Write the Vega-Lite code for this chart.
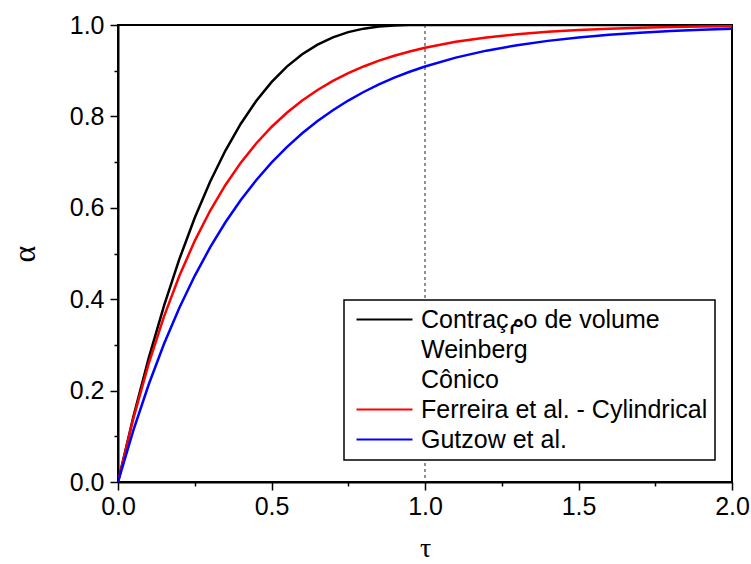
{
  "$schema": "https://vega.github.io/schema/vega-lite/v6.json",
  "width": 614,
  "height": 457,
  "autosize": "none",
  "padding": {"left": 118, "top": 25, "right": 19, "bottom": 82},
  "background": "white",
  "config": {
    "view": {"stroke": "black", "strokeWidth": 2},
    "font": "Liberation Sans"
  },
  "datasets": {
    "curves": [
      {"tau": 0, "alpha": 0, "model": "Contraçمo de volume"},
      {"tau": 0.05, "alpha": 0.142625, "model": "Contraçمo de volume"},
      {"tau": 0.1, "alpha": 0.271, "model": "Contraçمo de volume"},
      {"tau": 0.15, "alpha": 0.385875, "model": "Contraçمo de volume"},
      {"tau": 0.2, "alpha": 0.488, "model": "Contraçمo de volume"},
      {"tau": 0.25, "alpha": 0.578125, "model": "Contraçمo de volume"},
      {"tau": 0.3, "alpha": 0.657, "model": "Contraçمo de volume"},
      {"tau": 0.35, "alpha": 0.725375, "model": "Contraçمo de volume"},
      {"tau": 0.4, "alpha": 0.784, "model": "Contraçمo de volume"},
      {"tau": 0.45, "alpha": 0.833625, "model": "Contraçمo de volume"},
      {"tau": 0.5, "alpha": 0.875, "model": "Contraçمo de volume"},
      {"tau": 0.55, "alpha": 0.908875, "model": "Contraçمo de volume"},
      {"tau": 0.6, "alpha": 0.936, "model": "Contraçمo de volume"},
      {"tau": 0.65, "alpha": 0.957125, "model": "Contraçمo de volume"},
      {"tau": 0.7, "alpha": 0.973, "model": "Contraçمo de volume"},
      {"tau": 0.75, "alpha": 0.984375, "model": "Contraçمo de volume"},
      {"tau": 0.8, "alpha": 0.992, "model": "Contraçمo de volume"},
      {"tau": 0.85, "alpha": 0.996625, "model": "Contraçمo de volume"},
      {"tau": 0.9, "alpha": 0.999, "model": "Contraçمo de volume"},
      {"tau": 0.95, "alpha": 0.999875, "model": "Contraçمo de volume"},
      {"tau": 1.0, "alpha": 1, "model": "Contraçمo de volume"},
      {"tau": 1.5, "alpha": 1, "model": "Contraçمo de volume"},
      {"tau": 2.0, "alpha": 1, "model": "Contraçمo de volume"},

      {"tau": 0, "alpha": 0, "model": "Ferreira et al. - Cylindrical"},
      {"tau": 0.05, "alpha": 0.139292, "model": "Ferreira et al. - Cylindrical"},
      {"tau": 0.1, "alpha": 0.259182, "model": "Ferreira et al. - Cylindrical"},
      {"tau": 0.15, "alpha": 0.362372, "model": "Ferreira et al. - Cylindrical"},
      {"tau": 0.2, "alpha": 0.451188, "model": "Ferreira et al. - Cylindrical"},
      {"tau": 0.25, "alpha": 0.527633, "model": "Ferreira et al. - Cylindrical"},
      {"tau": 0.3, "alpha": 0.59343, "model": "Ferreira et al. - Cylindrical"},
      {"tau": 0.35, "alpha": 0.650062, "model": "Ferreira et al. - Cylindrical"},
      {"tau": 0.4, "alpha": 0.698806, "model": "Ferreira et al. - Cylindrical"},
      {"tau": 0.45, "alpha": 0.74076, "model": "Ferreira et al. - Cylindrical"},
      {"tau": 0.5, "alpha": 0.77687, "model": "Ferreira et al. - Cylindrical"},
      {"tau": 0.55, "alpha": 0.80795, "model": "Ferreira et al. - Cylindrical"},
      {"tau": 0.6, "alpha": 0.834701, "model": "Ferreira et al. - Cylindrical"},
      {"tau": 0.65, "alpha": 0.857726, "model": "Ferreira et al. - Cylindrical"},
      {"tau": 0.7, "alpha": 0.877544, "model": "Ferreira et al. - Cylindrical"},
      {"tau": 0.75, "alpha": 0.894601, "model": "Ferreira et al. - Cylindrical"},
      {"tau": 0.8, "alpha": 0.909282, "model": "Ferreira et al. - Cylindrical"},
      {"tau": 0.85, "alpha": 0.921918, "model": "Ferreira et al. - Cylindrical"},
      {"tau": 0.9, "alpha": 0.932794, "model": "Ferreira et al. - Cylindrical"},
      {"tau": 0.95, "alpha": 0.942156, "model": "Ferreira et al. - Cylindrical"},
      {"tau": 1.0, "alpha": 0.950213, "model": "Ferreira et al. - Cylindrical"},
      {"tau": 1.1, "alpha": 0.963117, "model": "Ferreira et al. - Cylindrical"},
      {"tau": 1.2, "alpha": 0.972676, "model": "Ferreira et al. - Cylindrical"},
      {"tau": 1.3, "alpha": 0.979758, "model": "Ferreira et al. - Cylindrical"},
      {"tau": 1.4, "alpha": 0.985004, "model": "Ferreira et al. - Cylindrical"},
      {"tau": 1.5, "alpha": 0.988891, "model": "Ferreira et al. - Cylindrical"},
      {"tau": 1.6, "alpha": 0.99177, "model": "Ferreira et al. - Cylindrical"},
      {"tau": 1.7, "alpha": 0.993903, "model": "Ferreira et al. - Cylindrical"},
      {"tau": 1.8, "alpha": 0.995483, "model": "Ferreira et al. - Cylindrical"},
      {"tau": 1.9, "alpha": 0.996654, "model": "Ferreira et al. - Cylindrical"},
      {"tau": 2.0, "alpha": 0.997521, "model": "Ferreira et al. - Cylindrical"},

      {"tau": 0, "alpha": 0, "model": "Gutzow et al."},
      {"tau": 0.05, "alpha": 0.11308, "model": "Gutzow et al."},
      {"tau": 0.1, "alpha": 0.213372, "model": "Gutzow et al."},
      {"tau": 0.15, "alpha": 0.302324, "model": "Gutzow et al."},
      {"tau": 0.2, "alpha": 0.381217, "model": "Gutzow et al."},
      {"tau": 0.25, "alpha": 0.451188, "model": "Gutzow et al."},
      {"tau": 0.3, "alpha": 0.513248, "model": "Gutzow et al."},
      {"tau": 0.35, "alpha": 0.568289, "model": "Gutzow et al."},
      {"tau": 0.4, "alpha": 0.617107, "model": "Gutzow et al."},
      {"tau": 0.45, "alpha": 0.660404, "model": "Gutzow et al."},
      {"tau": 0.5, "alpha": 0.698806, "model": "Gutzow et al."},
      {"tau": 0.55, "alpha": 0.732865, "model": "Gutzow et al."},
      {"tau": 0.6, "alpha": 0.763072, "model": "Gutzow et al."},
      {"tau": 0.65, "alpha": 0.789864, "model": "Gutzow et al."},
      {"tau": 0.7, "alpha": 0.813626, "model": "Gutzow et al."},
      {"tau": 0.75, "alpha": 0.834701, "model": "Gutzow et al."},
      {"tau": 0.8, "alpha": 0.853393, "model": "Gutzow et al."},
      {"tau": 0.85, "alpha": 0.869971, "model": "Gutzow et al."},
      {"tau": 0.9, "alpha": 0.884675, "model": "Gutzow et al."},
      {"tau": 0.95, "alpha": 0.897716, "model": "Gutzow et al."},
      {"tau": 1.0, "alpha": 0.909282, "model": "Gutzow et al."},
      {"tau": 1.1, "alpha": 0.928639, "model": "Gutzow et al."},
      {"tau": 1.2, "alpha": 0.943865, "model": "Gutzow et al."},
      {"tau": 1.3, "alpha": 0.955843, "model": "Gutzow et al."},
      {"tau": 1.4, "alpha": 0.965265, "model": "Gutzow et al."},
      {"tau": 1.5, "alpha": 0.972676, "model": "Gutzow et al."},
      {"tau": 1.6, "alpha": 0.978506, "model": "Gutzow et al."},
      {"tau": 1.7, "alpha": 0.983093, "model": "Gutzow et al."},
      {"tau": 1.8, "alpha": 0.9867, "model": "Gutzow et al."},
      {"tau": 1.9, "alpha": 0.989538, "model": "Gutzow et al."},
      {"tau": 2.0, "alpha": 0.99177, "model": "Gutzow et al."}
    ],
    "marker": [{"tau": 1.0}]
  },
  "layer": [
    {
      "data": {"name": "marker"},
      "mark": {"type": "rule", "color": "#222222", "strokeWidth": 1, "strokeDash": [3, 3]},
      "encoding": {
        "x": {"field": "tau", "type": "quantitative", "scale": {"domain": [0, 2]}}
      }
    },
    {
      "data": {"name": "curves"},
      "mark": {"type": "line", "strokeWidth": 2.5, "clip": true},
      "encoding": {
        "x": {
          "field": "tau", "type": "quantitative",
          "scale": {"domain": [0, 2], "nice": false, "zero": false},
          "axis": {
            "title": "τ",
            "titleFont": "Liberation Serif",
            "titleFontSize": 28,
            "titleFontWeight": "normal",
            "titleColor": "black",
            "titlePadding": 15,
            "values": [0, 0.25, 0.5, 0.75, 1, 1.25, 1.5, 1.75, 2],
            "labelExpr": "abs(datum.value*2 - round(datum.value*2)) < 0.000001 ? format(datum.value, '.1f') : ''",
            "labelFont": "Liberation Sans",
            "labelFontSize": 25,
            "labelColor": "black",
            "labelPadding": 4,
            "labelFlush": false,
            "labelOverlap": false,
            "grid": false,
            "domainColor": "black",
            "domainWidth": 2,
            "tickColor": "black",
            "tickWidth": 1.5,
            "tickSize": {"condition": {"test": "abs(datum.value*2 - round(datum.value*2)) < 0.000001", "value": 8}, "value": 4}
          }
        },
        "y": {
          "field": "alpha", "type": "quantitative",
          "scale": {"domain": [0, 1], "nice": false},
          "axis": {
            "title": "α",
            "titleFont": "Liberation Serif",
            "titleFontSize": 32,
            "titleFontWeight": "normal",
            "titleColor": "black",
            "titlePadding": 28,
            "values": [0, 0.1, 0.2, 0.3, 0.4, 0.5, 0.6, 0.7, 0.8, 0.9, 1.0],
            "labelExpr": "round(datum.value*10) % 2 == 0 ? format(datum.value, '.1f') : ''",
            "labelFont": "Liberation Sans",
            "labelFontSize": 25,
            "labelColor": "black",
            "labelPadding": 6,
            "labelFlush": false,
            "labelOverlap": false,
            "grid": false,
            "domainColor": "black",
            "domainWidth": 2,
            "tickColor": "black",
            "tickWidth": 1.5,
            "tickSize": {"condition": {"test": "round(datum.value*10) % 2 == 0", "value": 8}, "value": 4}
          }
        },
        "color": {
          "field": "model", "type": "nominal",
          "scale": {
            "domain": ["Contraçمo de volume", "Weinberg", "Cônico", "Ferreira et al. - Cylindrical", "Gutzow et al."],
            "range": ["black", "transparent", "transparent", "red", "blue"]
          },
          "legend": {
            "title": null,
            "orient": "none",
            "legendX": 226,
            "legendY": 275,
            "symbolType": "M-0.7,0H4.9",
            "symbolSize": 400,
            "symbolStrokeWidth": 2,
            "symbolFillColor": "transparent",
            "labelFont": "Liberation Sans",
            "labelFontSize": 25,
            "labelColor": "black",
            "labelLimit": 400,
            "labelOffset": 45,
            "rowPadding": 4,
            "padding": 7,
            "strokeColor": "black",
            "fillColor": "white",
            "encode": {"legend": {"update": {"strokeWidth": {"value": 1.5}}}}
          }
        }
      }
    }
  ]
}
